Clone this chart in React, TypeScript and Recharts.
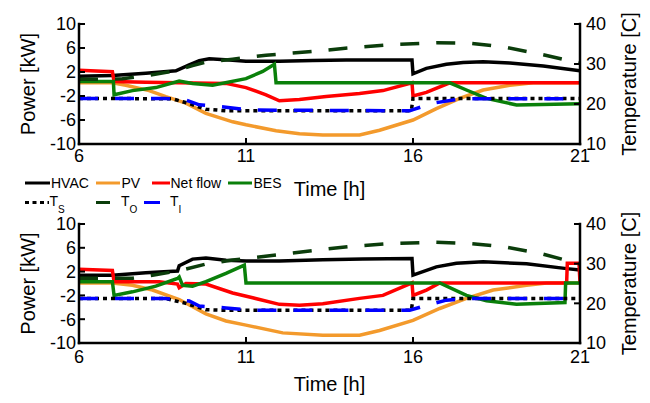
import React from 'react';
import { LineChart, Line, XAxis, YAxis } from 'recharts';

type Pt = [number, number];

const X_TICKS = [6, 11, 16, 21];
const P_TICKS = [-10, -6, -2, 2, 6, 10];
const T_TICKS = [10, 20, 30, 40];

// upper panel, [time h, value]
const HVAC_A: Pt[] = [[6, 1.3], [7, 1.4], [8, 1.8], [8.9, 2.2], [9.3, 3.2], [9.6, 3.9], [9.9, 4.2], [10.5, 4.0], [11, 3.8], [12, 3.8], [13, 3.9], [14, 4.0], [15.97, 4.0], [16, 1.7], [16.4, 2.6], [17, 3.3], [17.5, 3.6], [18.1, 3.7], [18.9, 3.5], [19.9, 3.0], [21, 2.2]];
const PV_A: Pt[] = [[6, 0.2], [7, 0.2], [7.4, -0.2], [8.1, -1.1], [8.6, -2.1], [9.2, -3.2], [9.8, -4.9], [10.6, -6.3], [11, -6.8], [11.9, -7.8], [12.6, -8.3], [13.3, -8.5], [14.4, -8.5], [15, -7.7], [16, -6.0], [16.7, -4.1], [17.4, -2.4], [18.1, -1.0], [18.9, -0.2], [19.6, 0.2], [21, 0.2]];
const NET_A: Pt[] = [[6, 2.3], [7.0, 2.05], [7.05, 0.4], [8, 0.3], [9, 0.2], [10.4, 0.1], [11, -0.6], [11.6, -1.8], [12, -2.8], [12.6, -2.6], [13.4, -2.1], [14.4, -1.6], [15.1, -1.1], [15.97, 0.2], [16, -2.0], [16.4, -1.4], [17.1, 0.2], [21, 0.2]];
const BES_A: Pt[] = [[6, 0.4], [7.03, 0.4], [7.05, -1.8], [7.6, -1.1], [8.3, -0.6], [9, 0.5], [9.4, 0.1], [10, -0.2], [11, 0.9], [11.5, 2.1], [11.85, 3.3], [11.9, 0.2], [17.1, 0.2], [17.6, -1.0], [18.2, -2.4], [19.1, -3.5], [21, -3.3]];
const TS_A: Pt[] = [[6, 21.4], [8.8, 21.3], [9.3, 20.1], [9.8, 18.7], [10.4, 18.3], [15.95, 18.3], [16, 21.4], [21, 21.4]];
const TO_A: Pt[] = [[6, 26.2], [7, 26.2], [7.3, 26.3], [8.1, 27.2], [8.9, 28.3], [9.4, 29.6], [9.8, 30.5], [10.6, 31.2], [11.6, 32.2], [13.1, 33.2], [13.9, 33.9], [15.4, 34.9], [16.7, 35.3], [17.7, 35.2], [18.7, 34.3], [19.9, 32.3], [21, 30.2]];
const TI_A: Pt[] = [[6, 21.4], [8.6, 21.4], [9.2, 21.0], [9.6, 19.8], [10.4, 19.2], [11.1, 18.5], [15.9, 18.3], [16, 18.6], [16.6, 20.2], [17.2, 21.0], [17.7, 21.3], [21, 21.3]];

// lower panel
const HVAC_B: Pt[] = [[6, 1.4], [7, 1.4], [8, 1.8], [8.95, 2.1], [9.0, 3.0], [9.4, 4.1], [9.8, 4.3], [10.4, 3.9], [11, 3.8], [12, 3.8], [13.3, 4.0], [14.5, 4.1], [15.97, 4.2], [16, 1.4], [16.7, 2.8], [17.3, 3.4], [18.1, 3.65], [19.4, 3.3], [20.6, 2.5], [21, 2.25]];
const PV_B: Pt[] = [[6, 0.1], [7, 0.1], [7.6, -0.3], [8.2, -1.1], [9, -2.7], [9.8, -5.1], [10.4, -6.3], [11, -7.0], [12.1, -8.3], [13.3, -8.7], [14.4, -8.7], [15, -7.9], [16, -6.2], [16.8, -4.2], [17.6, -2.5], [18.4, -1.1], [19.4, -0.3], [20, 0.1], [21, 0.1]];
const NET_B: Pt[] = [[6, 2.4], [7, 2.2], [7.05, 0.3], [8.4, 0.3], [8.95, -0.1], [9.0, -0.7], [9.2, 0.0], [9.8, -0.1], [10.6, -1.6], [11.2, -2.4], [12, -3.5], [12.6, -3.65], [13.3, -3.4], [14.4, -2.5], [15.1, -2.0], [15.97, 0.1], [16, -2.0], [16.4, -1.1], [16.8, 0.1], [20.6, 0.1], [20.62, 3.4], [20.97, 3.4], [21, 0.1]];
const BES_B: Pt[] = [[6, 0.3], [7.0, 0.3], [7.05, -2.0], [7.6, -1.4], [8.3, -0.45], [8.95, 0.85], [9.0, 1.1], [9.1, -0.3], [9.4, -0.45], [9.8, 0.3], [10.4, 1.7], [10.95, 3.1], [11.0, 0.1], [16.8, 0.1], [17.6, -2.0], [18.2, -2.9], [19.1, -3.5], [20.55, -3.2], [20.57, 0.1], [21, 0.1]];
const TS_B: Pt[] = [[6, 21.2], [8.6, 21.2], [9.2, 20.0], [9.8, 18.4], [10.4, 18.25], [15.95, 18.25], [16, 21.2], [21, 21.2]];
const TO_B: Pt[] = [[6, 26.3], [7.6, 26.3], [8.2, 27.1], [9, 28.2], [9.8, 29.9], [10.6, 30.9], [11, 31.3], [12.1, 32.4], [13, 33.3], [14.2, 34.4], [15.4, 35.1], [16.6, 35.4], [17.7, 35.1], [18.7, 34.3], [19.9, 32.4], [21, 29.9]];
const TI_B: Pt[] = [[6, 21.2], [8.6, 21.2], [9.3, 20.6], [9.6, 19.3], [10.4, 18.85], [11.2, 18.25], [15.9, 18.25], [16.4, 19.5], [17, 20.8], [17.6, 21.2], [21, 21.2]];

const C = {
  hvac: '#000000',
  pv: '#F39A2C',
  net: '#FF0000',
  bes: '#0A800A',
  ts: '#000000',
  to: '#0B3D0B',
  ti: '#0000FF',
};
const LW = 3.5;
const DOT = '4 4';
const DASH = '19 17';

const rows = (pts: Pt[]) => pts.map(([t, v]) => ({ t, v }));

const AxisTitle = (props: any) => {
  const { viewBox, text, cx } = props;
  const y = viewBox ? viewBox.y + viewBox.height / 2 : 84;
  return (
    <text x={cx} y={y} transform={`rotate(-90 ${cx} ${y})`} textAnchor="middle"
      dominantBaseline="central" fontSize={20} fill="#000">{text}</text>
  );
};

const frame = { stroke: '#000', strokeWidth: 2.5, strokeLinecap: 'square' as const };
const tickLn = { stroke: '#000', strokeWidth: 2 };
const tickTxt = { fill: '#000', fontSize: 18 };

interface PanelProps {
  height: number;
  xHeight: number;
  xTickMargin: number;
  timeOffset: number;
  series: Pt[][];
}

const Panel = ({ height, xHeight, xTickMargin, timeOffset, series }: PanelProps) => {
  const [hvac, pv, net, bes, ts, to, ti] = series;
  return (
    <LineChart width={650} height={height} margin={{ top: 24, right: 0, bottom: 0, left: 0 }}>
      <XAxis dataKey="t" type="number" domain={[6, 21]} ticks={X_TICKS} interval={0} allowDataOverflow
        height={xHeight} stroke="#000" axisLine={frame} tickLine={tickLn} tickSize={-6}
        tickMargin={xTickMargin} tick={tickTxt}
        label={{ value: 'Time [h]', position: 'insideBottom', offset: timeOffset, fill: '#000', fontSize: 20 }} />
      <XAxis xAxisId="top" orientation="top" dataKey="t" type="number" domain={[6, 21]} ticks={X_TICKS}
        interval={0} allowDataOverflow height={0} stroke="#000" axisLine={frame} tickLine={tickLn} tickSize={-6}
        tickFormatter={() => ''} />
      <YAxis yAxisId="p" type="number" domain={[-10, 10]} ticks={P_TICKS} interval={0} allowDataOverflow width={79}
        stroke="#000" axisLine={frame} tickLine={tickLn} tickSize={-6} tickMargin={9} tick={tickTxt}
        label={<AxisTitle text="Power [kW]" cx={28} />} />
      <YAxis yAxisId="T" orientation="right" type="number" domain={[10, 40]} ticks={T_TICKS} interval={0}
        allowDataOverflow width={70} stroke="#000" axisLine={frame} tickLine={tickLn} tickSize={-6}
        tickMargin={12} tick={tickTxt}
        label={<AxisTitle text="Temperature [C]" cx={629} />} />
      <Line yAxisId="p" data={rows(hvac)} dataKey="v" stroke={C.hvac} strokeWidth={LW} dot={false} activeDot={false} isAnimationActive={false} />
      <Line yAxisId="p" data={rows(pv)} dataKey="v" stroke={C.pv} strokeWidth={LW} dot={false} activeDot={false} isAnimationActive={false} />
      <Line yAxisId="p" data={rows(net)} dataKey="v" stroke={C.net} strokeWidth={LW} dot={false} activeDot={false} isAnimationActive={false} />
      <Line yAxisId="p" data={rows(bes)} dataKey="v" stroke={C.bes} strokeWidth={LW} dot={false} activeDot={false} isAnimationActive={false} />
      <Line yAxisId="T" data={rows(ts)} dataKey="v" stroke={C.ts} strokeWidth={LW} strokeDasharray={DOT} dot={false} activeDot={false} isAnimationActive={false} />
      <Line yAxisId="T" data={rows(to)} dataKey="v" stroke={C.to} strokeWidth={LW} strokeDasharray={DASH} dot={false} activeDot={false} isAnimationActive={false} />
      <Line yAxisId="T" data={rows(ti)} dataKey="v" stroke={C.ti} strokeWidth={LW} strokeDasharray={DASH} dot={false} activeDot={false} isAnimationActive={false} />
    </LineChart>
  );
};

const Legend2 = () => (
  <svg width={650} height={403} style={{ position: 'absolute', left: 0, top: 0, pointerEvents: 'none' }}>
    <g fontSize={14} fill="#000">
      <line x1={25} x2={50} y1={183} y2={183} stroke={C.hvac} strokeWidth={3} />
      <text x={51} y={187.5}>HVAC</text>
      <line x1={96} x2={120} y1={183} y2={183} stroke={C.pv} strokeWidth={3} />
      <text x={121.5} y={187.5}>PV</text>
      <line x1={152} x2={170} y1={183} y2={183} stroke={C.net} strokeWidth={3} />
      <text x={170.5} y={187.5}>Net flow</text>
      <line x1={228} x2={252} y1={183} y2={183} stroke={C.bes} strokeWidth={3} />
      <text x={253.5} y={187.5}>BES</text>

      <line x1={25} x2={49} y1={202.5} y2={202.5} stroke={C.ts} strokeWidth={3} strokeDasharray="4 3.5" />
      <text x={49.5} y={205.5}>T<tspan fontSize={10} dy={7}>S</tspan></text>
      <line x1={96} x2={110} y1={202.5} y2={202.5} stroke={C.to} strokeWidth={3} />
      <text x={121} y={205.5}>T<tspan fontSize={10} dy={7}>O</tspan></text>
      <line x1={144} x2={160} y1={202.5} y2={202.5} stroke={C.ti} strokeWidth={3} />
      <text x={170} y={205.5}>T<tspan fontSize={10} dy={7}>I</tspan></text>
    </g>
  </svg>
);

export default function App() {
  return (
    <div style={{ position: 'absolute', left: 0, top: 0, width: 650, height: 403, background: '#fff',
      fontFamily: '"Liberation Sans", Arial, Helvetica, sans-serif' }}>
      <div style={{ position: 'absolute', left: 0, top: 0 }}>
        <Panel height={200} xHeight={56} xTickMargin={11} timeOffset={4}
          series={[HVAC_A, PV_A, NET_A, BES_A, TS_A, TO_A, TI_A]} />
      </div>
      <div style={{ position: 'absolute', left: 0, top: 200 }}>
        <Panel height={203} xHeight={60} xTickMargin={13} timeOffset={12}
          series={[HVAC_B, PV_B, NET_B, BES_B, TS_B, TO_B, TI_B]} />
      </div>
      <Legend2 />
    </div>
  );
}
